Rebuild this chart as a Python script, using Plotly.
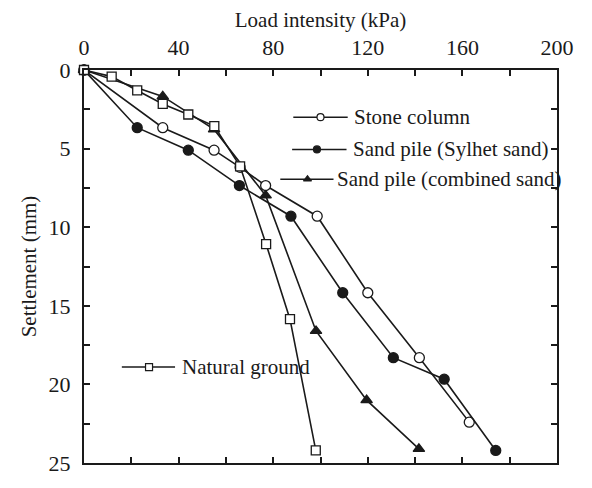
import plotly.graph_objects as go

# ---- data (load intensity kPa, settlement mm) ----
stone_x = [0, 33.3, 55.0, 66.0, 76.8, 98.6, 120.0, 141.8, 162.9]
stone_y = [0, 3.67, 5.10, 6.19, 7.35, 9.30, 14.17, 18.3, 22.4]

sylhet_x = [0, 22.5, 44.1, 65.7, 87.5, 109.4, 130.8, 152.3, 174.1]
sylhet_y = [0, 3.67, 5.10, 7.35, 9.30, 14.17, 18.3, 19.67, 24.2]

comb_x = [0, 33.3, 55.0, 76.8, 98.1, 119.5, 141.6]
comb_y = [0, 1.68, 3.78, 7.98, 16.6, 21.0, 24.1]

nat_x = [0, 11.7, 22.5, 33.3, 44.1, 55.1, 66.0, 77.0, 87.1, 98.0]
nat_y = [0, 0.42, 1.30, 2.16, 2.83, 3.57, 6.13, 11.08, 15.85, 24.2]

names = ["Stone column", "Sand pile (Sylhet sand)", "Sand pile (combined sand)", "Natural ground"]
x_ticks = [0, 40, 80, 120, 160, 200]
y_ticks = [0, 5, 10, 15, 20, 25]

FONT = "Liberation Serif"
BLACK = "#1a1a1a"

series = [
    (stone_x, stone_y, "circle", "white"),
    (sylhet_x, sylhet_y, "circle", BLACK),
    (comb_x, comb_y, "triangle-up", BLACK),
    (nat_x, nat_y, "square", "white"),
]

fig = go.Figure()
for (xs, ys, sym, fill), nm in zip(series, names):
    fig.add_trace(go.Scatter(
        x=xs, y=ys, mode="lines+markers", name=nm,
        line=dict(color=BLACK, width=1.6),
        marker=dict(symbol=sym, size=10 if sym != "square" else 9, color=fill,
                    line=dict(color=BLACK, width=1.3)),
        showlegend=False, cliponaxis=False,
    ))

# ---- in-plot legend (staggered, as in the original) ----
legend_items = [
    # (x_start, x_marker, x_end, y, text_x)
    (88.5, 100.0, 111.5, 3.0, 113.5),
    (88.0, 98.5, 111.0, 5.05, 113.0),
    (83.0, 94.5, 105.5, 6.95, 106.0),
    (16.0, 27.5, 38.5, 18.9, 40.5),
]
for (x0, xm, x1, yy, tx), (xs, ys, sym, fill), nm in zip(legend_items, series, names):
    fig.add_trace(go.Scatter(x=[x0, x1], y=[yy, yy], mode="lines",
                             line=dict(color=BLACK, width=1.5),
                             showlegend=False, hoverinfo="skip"))
    fig.add_trace(go.Scatter(x=[xm], y=[yy], mode="markers",
                             marker=dict(symbol=sym, size=7, color=fill,
                                         line=dict(color=BLACK, width=1.2)),
                             showlegend=False, hoverinfo="skip"))
    fig.add_annotation(x=tx, y=yy, xref="x", yref="y", text=nm, showarrow=False,
                       xanchor="left", yanchor="middle",
                       font=dict(family=FONT, size=21, color=BLACK))

fig.update_xaxes(
    range=[0, 200], side="top", tickvals=x_ticks, ticktext=[str(v) for v in x_ticks],
    ticks="inside", ticklen=6, tickwidth=1.5, tickcolor=BLACK, ticklabelstandoff=4,
    minor=dict(dtick=20, ticks="inside", ticklen=6, tickwidth=1.5, tickcolor=BLACK),
    showline=True, linecolor=BLACK, linewidth=2, mirror="ticks",
    showgrid=False, zeroline=False,
    tickfont=dict(family=FONT, size=22, color=BLACK),
    title=dict(text="Load intensity (kPa)", font=dict(family=FONT, size=21, color=BLACK), standoff=2),
)
fig.update_yaxes(
    range=[25, 0], tickvals=y_ticks, ticktext=[str(v) for v in y_ticks],
    ticks="inside", ticklen=6, tickwidth=1.5, tickcolor=BLACK, ticklabelstandoff=7,
    minor=dict(dtick=2.5, ticks="inside", ticklen=6, tickwidth=1.5, tickcolor=BLACK),
    showline=True, linecolor=BLACK, linewidth=2, mirror="ticks",
    showgrid=False, zeroline=False,
    tickfont=dict(family=FONT, size=22, color=BLACK),
    title=dict(text="Settlement (mm)", font=dict(family=FONT, size=21, color=BLACK), standoff=6),
)

fig.update_layout(
    width=592, height=488,
    margin=dict(l=84, r=35, t=70, b=21),
    paper_bgcolor="white", plot_bgcolor="white",
    showlegend=False,
)

fig.write_html("out.html")
